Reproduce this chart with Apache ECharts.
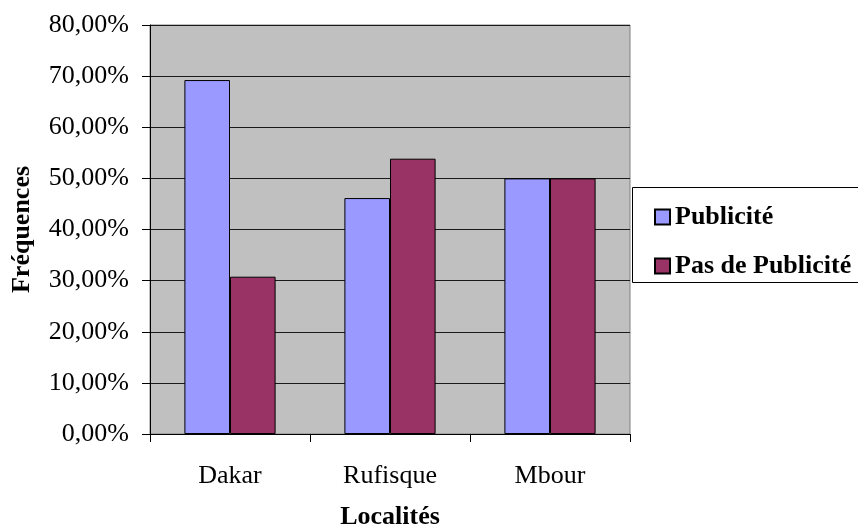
<!DOCTYPE html>
<html>
<head>
<meta charset="utf-8">
<script src="https://cdn.jsdelivr.net/npm/echarts@6/dist/echarts.min.js"></script>
<style>
  html, body { margin: 0; padding: 0; background: #ffffff; }
  #chart { width: 858px; height: 532px; }
</style>
</head>
<body>
<div id="chart"></div>
<script>
// Localités et fréquences (en %)
var categories = ['Dakar', 'Rufisque', 'Mbour'];
var publicite = [69.23, 46.15, 50.00];
var pasDePublicite = [30.77, 53.85, 50.00];
var seriesNames = ['Publicité', 'Pas de Publicité'];
var yTicks = { min: 0, max: 80, interval: 10 };

var FONT = 'Liberation Serif, Times New Roman, serif';

var chart = echarts.init(document.getElementById('chart'), null, { renderer: 'canvas' });

function pct(v) {
  return v.toFixed(2).replace('.', ',') + '%';
}

chart.setOption({
  animation: false,
  backgroundColor: '#ffffff',
  grid: {
    left: 150, right: 228, top: 25, bottom: 98,
    outerBoundsMode: 'none',
    containLabel: false,
    show: true,
    backgroundColor: '#C0C0C0',
    borderColor: '#808080',
    borderWidth: 1
  },
  graphic: [{
    type: 'rect',
    z: 0,
    shape: { x: 632.5, y: 187.5, width: 240, height: 95 },
    style: { fill: '#ffffff', stroke: '#000000', lineWidth: 1 }
  }],
  legend: {
    orient: 'vertical',
    left: 649,
    top: 199,
    itemWidth: 15,
    itemHeight: 15,
    itemGap: 23,
    icon: 'rect',
    z: 5,
    data: seriesNames,
    textStyle: {
      fontFamily: FONT,
      fontSize: 26,
      fontWeight: 'bold',
      color: '#000000'
    }
  },
  xAxis: {
    type: 'category',
    data: categories,
    name: 'Localités',
    nameLocation: 'middle',
    nameGap: 70,
    nameTextStyle: { fontFamily: FONT, fontSize: 26, fontWeight: 'bold', color: '#000000' },
    axisLine: { lineStyle: { color: '#000000', width: 1 } },
    axisTick: { show: true, length: 8, lineStyle: { color: '#000000' } },
    axisLabel: { fontFamily: FONT, fontSize: 26, color: '#000000', margin: 29 },
    splitLine: { show: false }
  },
  yAxis: {
    type: 'value',
    min: yTicks.min,
    max: yTicks.max,
    interval: yTicks.interval,
    name: 'Fréquences',
    nameLocation: 'middle',
    nameRotate: 90,
    nameGap: 115,
    nameTextStyle: { fontFamily: FONT, fontSize: 26, fontWeight: 'bold', color: '#000000' },
    axisLine: { show: true, lineStyle: { color: '#000000', width: 1 } },
    axisTick: { show: true, length: 8, lineStyle: { color: '#000000' } },
    axisLabel: {
      fontFamily: FONT, fontSize: 26, color: '#000000', margin: 21,
      formatter: function (v) { return pct(v); }
    },
    splitLine: { show: true, lineStyle: { color: '#1a1a1a', width: 1 } }
  },
  series: [
    {
      name: seriesNames[0],
      type: 'bar',
      data: publicite,
      barGap: '0%',
      barCategoryGap: '43%',
      itemStyle: { color: '#9999FF', borderColor: '#000000', borderWidth: 1 }
    },
    {
      name: seriesNames[1],
      type: 'bar',
      data: pasDePublicite,
      barGap: '0%',
      barCategoryGap: '43%',
      itemStyle: { color: '#993366', borderColor: '#000000', borderWidth: 1 }
    }
  ]
});
</script>
</body>
</html>
